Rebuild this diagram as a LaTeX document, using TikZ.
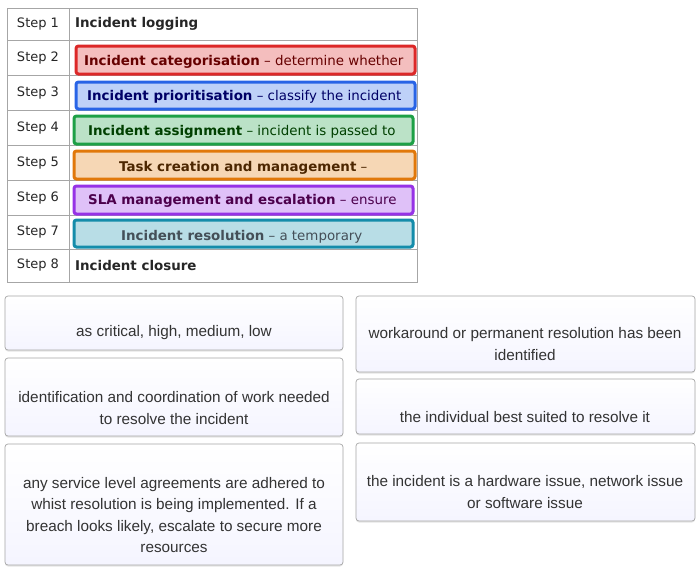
\documentclass[tikz,border=0pt]{standalone}
\usepackage{fontspec}
\usetikzlibrary{shadows}
\setmainfont{DejaVu Sans}
\newfontfamily\cardfont{Liberation Sans}
\begin{document}
\begin{tikzpicture}[x=1pt,y=-1pt,
 grid/.style={draw=black!35,line width=0.8pt},
 steplab/.style={anchor=center,font=\fontsize{13}{15}\selectfont,text=black!85},
 hl/.style={rounded corners=2.5pt,line width=3pt,draw=#1,fill=#1!30},
 card/.style={draw=black!35,line width=0.7pt,rounded corners=3pt,top color=white,bottom color=blue!4,drop shadow={opacity=0.2,shadow xshift=0pt,shadow yshift=-1.5pt}},
 ctext/.style={align=center,font=\cardfont\fontsize{15.3}{21.5}\selectfont,text=black!80}]
\useasboundingbox (0,0) rectangle (700,574);
\fill[white] (0,0) rectangle (700,574);
% table
\draw[grid] (7,8) rectangle (417,282);
\draw[grid] (69,8) -- (69,282);
\foreach \y in {40,75,110,145,180,215,249}{\draw[grid] (7,\y) -- (417,\y);}
\foreach \i/\y in {1/24,2/58,3/93,4/128,5/163,6/198,7/232,8/265}{
 \node[steplab] (s\i) at (38,\y) {Step \i};}
\definecolor{cR}{RGB}{220,40,40}\definecolor{cB}{RGB}{40,100,230}
\definecolor{cG}{RGB}{30,160,70}\definecolor{cO}{RGB}{225,120,10}
\definecolor{cP}{RGB}{150,50,230}\definecolor{cT}{RGB}{20,140,170}
\draw[hl=cR] (76,46) rectangle (415,74);
\draw[hl=cB] (76,82) rectangle (415,109);
\draw[hl=cG] (74,116) rectangle (413,144);
\draw[hl=cO] (74,151) rectangle (415,179);
\draw[hl=cP] (74,186) rectangle (413,214);
\draw[hl=cT] (74,220) rectangle (413,247);
\tikzset{lab/.style={anchor=west,font=\fontsize{13.4}{15}\selectfont,text=black!85,inner sep=0pt}}
\node[lab] (t1) at (75,24) {\textbf{Incident logging}};
\node[lab,text=red!40!black] (t2) at (84,62) {\textbf{Incident categorisation} – determine whether};
\node[lab,text=blue!40!black] (t3) at (87,97) {\textbf{Incident prioritisation} – classify the incident};
\node[lab,text=green!25!black] (t4) at (88,132) {\textbf{Incident assignment} – incident is passed to};
\node[lab,text=orange!30!black] (t5) at (119,168) {\textbf{Task creation and management} –};
\node[lab,text=violet!60!black] (t6) at (88,201) {\textbf{SLA management and escalation} – ensure};
\node[lab,text=cyan!25!black] (t7) at (121,237) {\textbf{Incident resolution} – a temporary};
\node[lab] (t8) at (75,265) {\textbf{Incident closure}};
% cards
\path[card] (5,296) rectangle (343,350);
\path[card] (5,358) rectangle (343,436);
\path[card] (5,444) rectangle (343,565);
\path[card] (356,296) rectangle (695,372);
\path[card] (356,379) rectangle (695,434);
\path[card] (356,443) rectangle (695,521);
\node[ctext] (c1) at (174,333) {as critical, high, medium, low};
\node[ctext] (c2) at (174,408) {identification and coordination of work needed\\to resolve the incident};
\node[ctext] (c3) at (174,515) {any service level agreements are adhered to\\whist resolution is being implemented. If a\\breach looks likely, escalate to secure more\\resources};
\node[ctext] (c4) at (525,344) {workaround or permanent resolution has been\\identified};
\node[ctext] (c5) at (525,417) {the individual best suited to resolve it};
\node[ctext] (c6) at (525,492) {the incident is a hardware issue, network issue\\or software issue};
\end{tikzpicture}
\end{document}
